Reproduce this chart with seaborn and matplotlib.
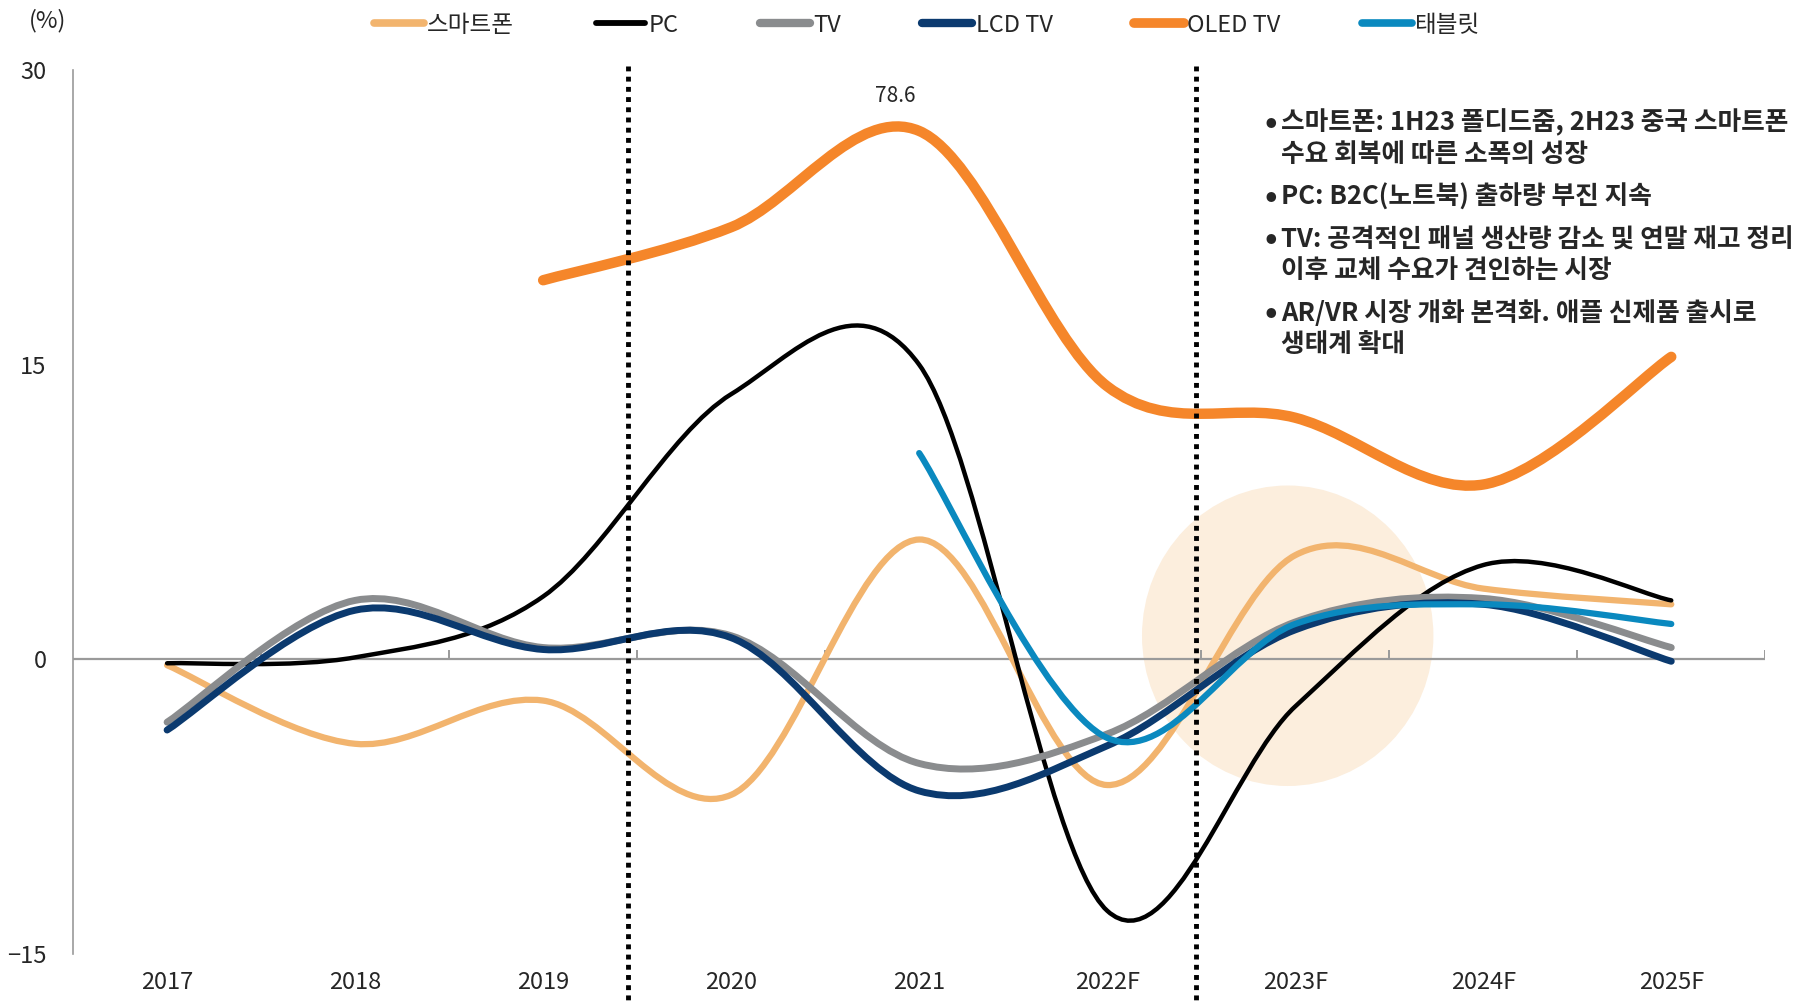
import numpy as np
import pandas as pd
import seaborn as sns
import matplotlib.pyplot as plt
from matplotlib.path import Path
from matplotlib.patches import PathPatch, Ellipse
from matplotlib.lines import Line2D

# 데이터 (YoY, %)
years = ['2017', '2018', '2019', '2020', '2021', '2022F', '2023F', '2024F', '2025F']
smartphone = [-0.3, -4.3, -2.1, -6.9, 6.1, -6.4, 5.3, 3.6, 2.8]
pc = [-0.2, 0.1, 3.2, 13.5, 15.0, -12.8, -2.4, 4.8, 3.0]
tv = [-3.2, 3.0, 0.6, 1.2, -5.3, -3.8, 1.9, 3.1, 0.6]
lcd_tv = [-3.6, 2.5, 0.5, 1.1, -6.7, -4.4, 1.5, 2.8, -0.1]
oled_tv = [np.nan, np.nan, 19.3, 22.0, 26.9, 13.9, 12.3, 8.9, 15.4]  # 2021 실제값 78.6 (축 상한으로 표시)
tablet = [np.nan, np.nan, np.nan, np.nan, 10.5, -4.0, 1.8, 2.8, 1.8]
oled_2021_label = '78.6'

series = ['스마트폰', 'PC', 'TV', 'LCD TV', 'OLED TV', '태블릿']
colors = ['#F2B46E', '#000000', '#8A8C8E', '#0B3A6F', '#F5862A', '#0A89BF']
widths = [4.5, 3.2, 5, 5, 7.5, 4.5]

notes = [
    ['스마트폰: 1H23 폴디드줌, 2H23 중국 스마트폰', '수요 회복에 따른 소폭의 성장'],
    ['PC: B2C(노트북) 출하량 부진 지속'],
    ['TV: 공격적인 패널 생산량 감소 및 연말 재고 정리', '이후 교체 수요가 견인하는 시장'],
    ['AR/VR 시장 개화 본격화. 애플 신제품 출시로', '생태계 확대'],
]

df = pd.DataFrame(dict(zip(series, [smartphone, pc, tv, lcd_tv, oled_tv, tablet])), index=years)

sns.set_theme(style='white')
plt.rcParams['font.family'] = ['Noto Sans CJK KR', 'DejaVu Sans']
plt.rcParams['axes.unicode_minus'] = True

fig = plt.figure(figsize=(18.18, 10.01), dpi=100)
ax = fig.add_axes([0.0402, 0.047, 0.9308, 0.883])


def smooth_line(ax, ys, **kw):
    # 엑셀식 부드러운 선 (베지어 곡선)
    p = np.array([(i, y) for i, y in enumerate(ys) if not np.isnan(y)], float)
    verts, codes = [p[0]], [Path.MOVETO]
    n = len(p)
    for i in range(n - 1):
        p0 = p[i - 1] if i > 0 else p[i]
        p3 = p[i + 2] if i + 2 < n else p[i + 1]
        verts += [p[i] + (p[i + 1] - p0) / 6, p[i + 1] - (p3 - p[i]) / 6, p[i + 1]]
        codes += [Path.CURVE4] * 3
    ax.add_patch(PathPatch(Path(verts, codes), fill=False, capstyle='round',
                           joinstyle='round', **kw))


ax.add_patch(Ellipse((5.96, 1.2), 1.55, 15.3, color='#FCEEDD', lw=0, zorder=1))

ax.axhline(0, color='#9A9A9A', lw=1.6, zorder=2)
ax.vlines(np.arange(0.5, 9, 1), 0, 0.45, color='#9A9A9A', lw=1.4, zorder=2)

for name, c, w in zip(series, colors, widths):
    smooth_line(ax, df[name].values, color=c, lw=w, zorder=3)

for xv in (2.45, 5.47):
    ax.plot([xv, xv], [30.2, -17.5], color='black', lw=3.5, ls=(0, (1, 1.1)),
            clip_on=False, zorder=4)

ax.annotate(oled_2021_label, xy=(4, df.loc['2021', 'OLED TV']), xytext=(-17, 25),
            textcoords='offset points', ha='center', va='center', fontsize=15)

ax.set_xlim(-0.5, 8.5)
ax.set_ylim(-15, 30)
ax.set_yticks([-15, 0, 15, 30])
ax.set_xticks(range(len(years)))
ax.set_xticklabels(years)
ax.tick_params(axis='x', length=0, labelsize=17, pad=12)
ax.tick_params(axis='y', direction='in', length=6, color='#9A9A9A', width=1.2,
               labelsize=17, pad=19)
for s in ['top', 'right', 'bottom']:
    ax.spines[s].set_visible(False)
ax.spines['left'].set_color('#9A9A9A')
ax.spines['left'].set_linewidth(1.2)
ax.grid(False)

fig.text(0.016, 0.979, '(%)', fontsize=17, va='center')

handles = [Line2D([0], [0], color=c, lw=min(w, 6) + 1, solid_capstyle='round')
           for c, w in zip(colors, widths)]
fig.legend(handles, series, ncol=6, loc='center', bbox_to_anchor=(0.51, 0.975),
           frameon=False, fontsize=17, handlelength=2.1, handletextpad=0.15,
           columnspacing=3.45)

y = 123
for block in notes:
    fig.text(1264 / 1818, 1 - y / 1001, '•', fontsize=24, fontweight='bold',
             va='center')
    for line in block:
        fig.text(1281 / 1818, 1 - y / 1001, line, fontsize=18.5, fontweight='bold',
                 va='center')
        y += 31
    y += 12

fig.savefig('out.png', dpi=100)
